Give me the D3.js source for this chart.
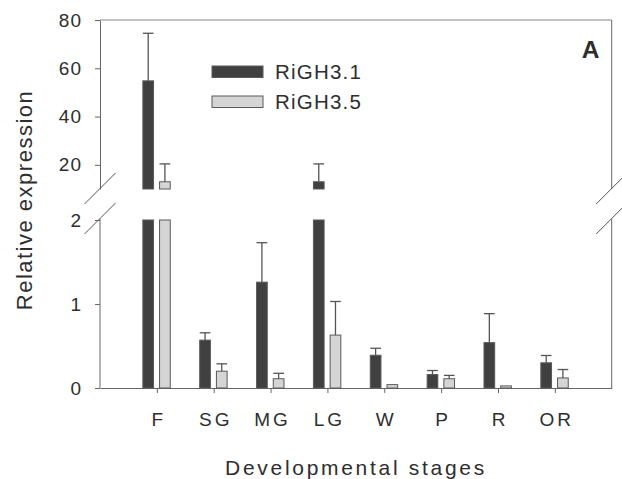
<!DOCTYPE html>
<html lang="en">
<head>
    <meta charset="utf-8">
    <script src="https://d3js.org/d3.v7.min.js"></script>
    <title>Relative expression</title>
    <style>
        body { margin: 0; background: #fff; }
        svg text { font-family: "Liberation Sans", Arial, sans-serif; fill: #2e2e2e; }
    </style>
</head>
<body>
    <div id="container"></div>
    <script>
        // data
        const stages = ["F", "SG", "MG", "LG", "W", "P", "R", "OR"];
        const seriesNames = ["RiGH3.1", "RiGH3.5"];
        const righ31 = [54.8, 0.57, 1.26, 13.0, 0.39, 0.16, 0.54, 0.30];
        const righ31Err = [19.7, 0.087, 0.47, 7.4, 0.083, 0.048, 0.345, 0.087];
        const righ35 = [13.0, 0.20, 0.11, 0.63, 0.04, 0.11, 0.025, 0.12];
        const righ35Err = [7.4, 0.088, 0.065, 0.40, 0, 0.04, 0, 0.10];
        const upperTicks = [20, 40, 60, 80];
        const lowerTicks = [0, 1, 2];

        const W = 622, H = 479;
        const plotL = 100, plotR = 611.7, plotT = 20, plotB = 388;
        const breakTop = 189, breakBottom = 220;
        const colors = ["#404040", "#d5d5d5"];

        const svg = d3.select("#container").append("svg").attr("width", W).attr("height", H);

        // scales: upper part 10-80, lower part 0-2
        const x = d3.scalePoint().domain(stages).range([plotL, plotR]).padding(1);
        const xs = d3.scaleBand().domain(seriesNames).range([-14, 13.4]).paddingInner(0.36);
        const yUp = d3.scaleLinear().domain([10, 80]).range([breakTop, plotT]);
        const yLow = d3.scaleLinear().domain([0, 2]).range([plotB, breakBottom]);

        const rows = [];
        stages.forEach((s, i) => {
            rows.push({stage: s, series: seriesNames[0], v: righ31[i], e: righ31Err[i]});
            rows.push({stage: s, series: seriesNames[1], v: righ35[i], e: righ35Err[i]});
        });

        // axes
        const axisColor = "#666";
        const yAxisUp = svg.append("g").attr("transform", "translate(" + plotL + ",0)")
            .call(d3.axisLeft(yUp).tickValues(upperTicks).tickSize(5).tickSizeOuter(0).tickPadding(13));
        const yAxisLow = svg.append("g").attr("transform", "translate(" + plotL + ",0)")
            .call(d3.axisLeft(yLow).tickValues(lowerTicks).tickFormat(d3.format("d"))
                .tickSize(5).tickSizeOuter(0).tickPadding(13));
        [yAxisUp, yAxisLow].forEach(g => {
            g.selectAll("path, line").attr("stroke", axisColor);
            g.selectAll("text").style("font-size", "19px").style("letter-spacing", "1px").attr("fill", "#2e2e2e");
        });
        yAxisLow.select(".domain").attr("d", "M0," + (breakBottom - 1) + "V" + plotB);

        const xAxis = svg.append("g").attr("transform", "translate(0," + plotB + ")")
            .call(d3.axisBottom(x).tickSize(5).tickSizeOuter(0).tickPadding(20));
        xAxis.selectAll("path, line").attr("stroke", axisColor);
        xAxis.selectAll("text").style("font-size", "19px").style("letter-spacing", "3px").attr("fill", "#2e2e2e")
            .attr("dx", "1.5px");

        // frame: top and right
        svg.append("line").attr("x1", plotL).attr("x2", plotR).attr("y1", plotT).attr("y2", plotT)
            .attr("stroke", "#888");
        svg.append("line").attr("x1", plotR).attr("x2", plotR).attr("y1", plotT).attr("y2", breakTop)
            .attr("stroke", axisColor);
        svg.append("line").attr("x1", plotR).attr("x2", plotR).attr("y1", breakBottom - 1).attr("y2", plotB)
            .attr("stroke", axisColor);

        // break marks
        [plotL, plotR].forEach(cx => {
            [breakTop - 0.5, breakBottom - 1.5].forEach(cy => {
                svg.append("line")
                    .attr("x1", cx - 15.5).attr("y1", cy + 15.5)
                    .attr("x2", cx + 15.5).attr("y2", cy - 15.5)
                    .attr("stroke", "#555").attr("stroke-width", 1);
            });
        });

        // bars, lower part (clipped at 2)
        const bars = svg.append("g");
        bars.selectAll("rect.low").data(rows).enter().append("rect")
            .attr("class", "low")
            .attr("x", d => x(d.stage) + xs(d.series))
            .attr("width", xs.bandwidth())
            .attr("y", d => yLow(Math.min(d.v, 2)))
            .attr("height", d => plotB - yLow(Math.min(d.v, 2)))
            .attr("fill", d => colors[seriesNames.indexOf(d.series)])
            .attr("stroke", "#5a5a5a").attr("stroke-width", 1);

        // bars, upper part
        bars.selectAll("rect.up").data(rows.filter(d => d.v > 10)).enter().append("rect")
            .attr("class", "up")
            .attr("x", d => x(d.stage) + xs(d.series))
            .attr("width", xs.bandwidth())
            .attr("y", d => yUp(d.v))
            .attr("height", d => breakTop - yUp(d.v))
            .attr("fill", d => colors[seriesNames.indexOf(d.series)])
            .attr("stroke", "#5a5a5a").attr("stroke-width", 1);

        // error bars
        const errRows = rows.filter(d => d.e > 0);
        const yOf = v => v > 10 ? yUp(v) : yLow(v);
        const err = svg.append("g").attr("stroke", "#555").attr("stroke-width", 1.3);
        err.selectAll("line.v").data(errRows).enter().append("line")
            .attr("x1", d => x(d.stage) + xs(d.series) + xs.bandwidth() / 2)
            .attr("x2", d => x(d.stage) + xs(d.series) + xs.bandwidth() / 2)
            .attr("y1", d => yOf(d.v))
            .attr("y2", d => yOf(d.v + d.e));
        err.selectAll("line.cap").data(errRows).enter().append("line")
            .attr("x1", d => x(d.stage) + xs(d.series))
            .attr("x2", d => x(d.stage) + xs(d.series) + xs.bandwidth())
            .attr("y1", d => yOf(d.v + d.e))
            .attr("y2", d => yOf(d.v + d.e));

        // legend
        const legend = svg.append("g").attr("transform", "translate(212,0)");
        seriesNames.forEach((name, i) => {
            legend.append("rect").attr("x", 0).attr("y", 66 + i * 30).attr("width", 51).attr("height", 11.5)
                .attr("fill", colors[i]).attr("stroke", "#5a5a5a");
            legend.append("text").attr("x", 63).attr("y", 79 + i * 30)
                .style("font-size", "20.5px").style("letter-spacing", "1.2px").text(name);
        });

        // panel label
        svg.append("text").attr("x", 590.5).attr("y", 58.3).attr("text-anchor", "middle")
            .style("font-size", "24.5px").style("font-weight", "bold").text("A");

        // axis titles
        svg.append("text").attr("transform", "translate(32,200) rotate(-90)").attr("text-anchor", "middle")
            .style("font-size", "22px").style("letter-spacing", "1.5px").text("Relative expression");
        svg.append("text").attr("x", 356).attr("y", 475).attr("text-anchor", "middle")
            .style("font-size", "21px").style("letter-spacing", "2.7px").text("Developmental stages");
    </script>
</body>
</html>
